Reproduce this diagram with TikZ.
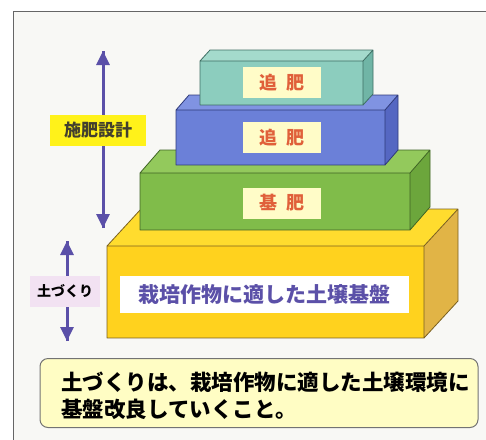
\documentclass[tikz,border=0pt]{standalone}
\usepackage{fontspec}
\newfontfamily\jp{Noto Sans CJK JP}
\usetikzlibrary{arrows.meta}
\definecolor{bg}{HTML}{F8F8F5}
\definecolor{tealF}{HTML}{8CCDBE}\definecolor{tealT}{HTML}{A4DACC}\definecolor{tealR}{HTML}{70B5A6}\definecolor{tealD}{HTML}{3F6F64}
\definecolor{blueF}{HTML}{6B80D8}\definecolor{blueT}{HTML}{8093E2}\definecolor{blueR}{HTML}{5567C2}\definecolor{blueD}{HTML}{2F3A7A}
\definecolor{greenF}{HTML}{80BC4A}\definecolor{greenT}{HTML}{93C95C}\definecolor{greenR}{HTML}{6CA63C}\definecolor{greenD}{HTML}{3F6424}
\definecolor{yelF}{HTML}{FFD21E}\definecolor{yelT}{HTML}{FFDC2E}\definecolor{yelR}{HTML}{E1B446}\definecolor{yelD}{HTML}{7A6020}
\definecolor{lblY}{HTML}{FFFCC8}
\definecolor{lblRed}{HTML}{E0603A}
\definecolor{arr}{HTML}{5B50A8}
\definecolor{hiY}{HTML}{FFF21A}
\definecolor{pinkbg}{HTML}{F2E2F2}
\definecolor{noteY}{HTML}{FFFDC4}
% #1 left #2 top #3 right #4 bottom #5 dx #6 dy #7 prefix
\newcommand\mycuboid[7]{%
  \fill[#7T] (#1,#2) -- (#1+#5,#2+#6) -- (#3+#5,#2+#6) -- (#3,#2) -- cycle;
  \fill[#7R] (#3,#2) -- (#3+#5,#2+#6) -- (#3+#5,#4+#6) -- (#3,#4) -- cycle;
  \fill[#7F] (#1,#2) rectangle (#3,#4);
  \draw[#7D,line width=0.8pt,line join=round] (#1,#4) -- (#1,#2) -- (#1+#5,#2+#6) -- (#3+#5,#2+#6) -- (#3+#5,#4+#6) -- (#3,#4) -- cycle
     (#1,#2) -- (#3,#2) -- (#3+#5,#2+#6) (#3,#2) -- (#3,#4);
}
\tikzset{
  fert/.style={fill=lblY,text=lblRed,font=\jp\bfseries\fontsize{18}{18}\selectfont,minimum width=78pt,minimum height=31pt,inner sep=0pt},
  dimarrow/.style={arr,line width=3pt,-{Triangle[width=13pt,length=14pt]}},
}
\begin{document}
\begin{tikzpicture}[x=1pt,y=-1pt]
\useasboundingbox (0,0) rectangle (486,439);
\fill[white] (0,0) rectangle (486,439);
\fill[bg] (13,11) rectangle (490,445);
\draw[gray!80!black,line width=1pt] (13,445) -- (13,11) -- (490,11);

\mycuboid{107}{246}{424}{338}{34}{-37}{yel}
\mycuboid{140}{173}{410}{230}{20}{-23}{green}
\mycuboid{176}{110}{385}{165}{13}{-15}{blue}
\mycuboid{200}{61}{363}{105}{10}{-11}{teal}

\node[fert] (t1) at (282,82.5) {追\hspace{0.45em}肥};
\node[fert] (t2) at (282,137.5) {追\hspace{0.45em}肥};
\node[fert] (t3) at (282,203) {基\hspace{0.45em}肥};
\node[fill=white,text=arr,font=\jp\bfseries\fontsize{21}{21}\selectfont,minimum width=289pt,minimum height=37pt,inner sep=0pt] (base) at (264.5,294.5) {栽培作物に適した土壌基盤};

\coordinate (s1) at (103,51);
\coordinate (s2) at (103,228);
\draw[dimarrow] (s1) -- (s2);
\draw[dimarrow] (s2) -- (s1);
\node[fill=hiY,text=black!70!olive,font=\jp\bfseries\fontsize{17}{17}\selectfont,minimum width=96pt,minimum height=31pt,inner sep=0pt] (sehi) at (98,130.5) {施肥設計};

\coordinate (d1) at (67,241);
\coordinate (d2) at (67,341);
\draw[dimarrow] (d1) -- (d2);
\draw[dimarrow] (d2) -- (d1);
\node[fill=pinkbg,text=black,font=\jp\bfseries\fontsize{14}{14}\selectfont,minimum width=70pt,minimum height=31pt,inner sep=0pt] (tsuchi) at (65,291.5) {土づくり};

\node[draw=gray!90!black,line width=1pt,fill=noteY,rounded corners=8pt,minimum width=438pt,minimum height=69pt,inner sep=0pt] (note) at (259,393) {};
\node[anchor=west,align=left,font=\jp\bfseries\fontsize{21.5}{27}\selectfont,inner sep=0pt] (notetext) at (61,395.5) {土づくりは、栽培作物に適した土壌環境に\\基盤改良していくこと。};
\end{tikzpicture}
\end{document}
